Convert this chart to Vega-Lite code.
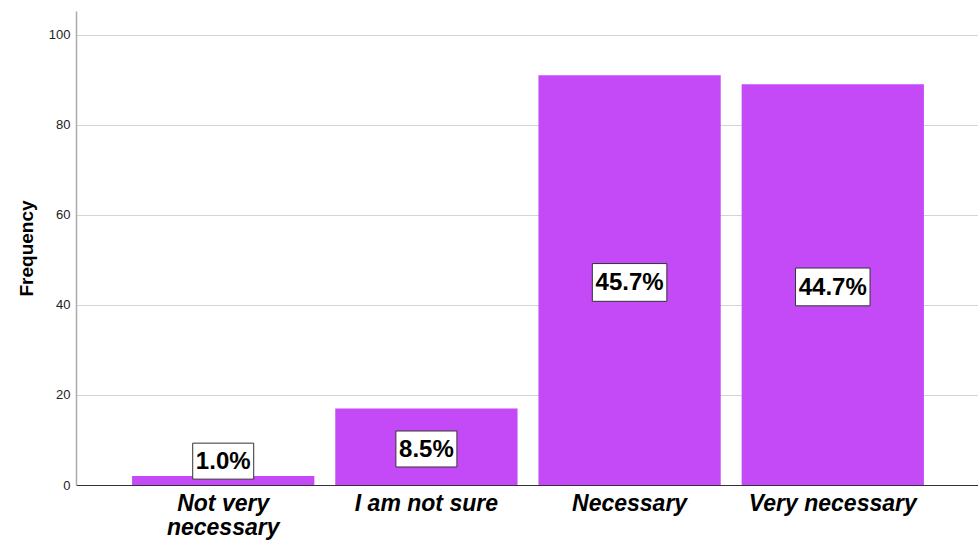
{
  "$schema": "https://vega.github.io/schema/vega-lite/v6.json",
  "autosize": {"type": "none"},
  "padding": {"left": 76, "top": 11, "right": 0, "bottom": 55},
  "width": 904,
  "height": 474,
  "background": "white",
  "config": {
    "view": {"stroke": null},
    "font": "Liberation Sans, Arial, sans-serif"
  },
  "data": {
    "values": [
      {"category": "Not very necessary", "count": 2, "label": "1.0%"},
      {"category": "I am not sure", "count": 17, "label": "8.5%"},
      {"category": "Necessary", "count": 91, "label": "45.7%"},
      {"category": "Very necessary", "count": 89, "label": "44.7%"}
    ]
  },
  "transform": [
    {"calculate": "max(datum.count / 2 - 0.5, 5.3)", "as": "labelY"}
  ],
  "encoding": {
    "x": {
      "field": "category",
      "type": "nominal",
      "sort": null,
      "scale": {"paddingInner": 0.103, "paddingOuter": 0.276},
      "axis": {
        "title": null,
        "labelAngle": 0,
        "labelFont": "Liberation Sans, Arial, sans-serif",
        "labelFontSize": 23,
        "labelFontWeight": "bold",
        "labelFontStyle": "italic",
        "labelColor": "#000000",
        "labelPadding": 7,
        "labelLineHeight": 24,
        "labelExpr": "datum.value == 'Not very necessary' ? ['Not very', 'necessary'] : datum.label",
        "ticks": false,
        "domainColor": "#333333",
        "domainWidth": 1,
        "grid": false
      }
    }
  },
  "layer": [
    {
      "mark": {"type": "bar", "color": "#c449f7"},
      "encoding": {
        "y": {
          "field": "count",
          "type": "quantitative",
          "scale": {"domain": [0, 105.3], "nice": false},
          "axis": {
            "title": "Frequency",
            "titleFontSize": 19,
            "titleFontWeight": "bold",
            "titleColor": "#000000",
            "titlePadding": 12,
            "values": [0, 20, 40, 60, 80, 100],
            "labelFontSize": 13,
            "labelColor": "#222222",
            "labelPadding": 6,
            "ticks": false,
            "domainColor": "#aaaaaa",
            "domainWidth": 1.5,
            "gridColor": "#d4d4d4",
            "gridWidth": 1.2
          }
        }
      }
    },
    {
      "mark": {"type": "point", "filled": true, "fill": "white", "stroke": "#333333", "strokeWidth": 1, "opacity": 1, "fillOpacity": 1},
      "encoding": {
        "y": {"field": "labelY", "type": "quantitative"},
        "shape": {
          "condition": {"test": "length(datum.label) > 4", "value": "M-1,-0.507L1,-0.507L1,0.507L-1,0.507Z"},
          "value": "M-1,-0.59L1,-0.59L1,0.59L-1,0.59Z"
        },
        "size": {
          "condition": {"test": "length(datum.label) > 4", "value": 5550},
          "value": 3721
        }
      }
    },
    {
      "mark": {"type": "text", "fontSize": 24, "fontWeight": "bold", "color": "#000000", "baseline": "middle", "align": "center", "dy": 1},
      "encoding": {
        "y": {"field": "labelY", "type": "quantitative"},
        "text": {"field": "label"}
      }
    }
  ]
}
